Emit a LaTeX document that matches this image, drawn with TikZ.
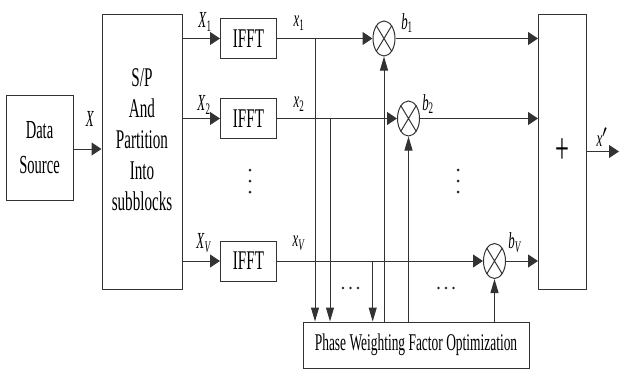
\documentclass[tikz,border=0pt]{standalone}
\usepackage{fontspec}
\setmainfont[FakeStretch=0.56]{Liberation Serif}
\usetikzlibrary{arrows.meta,shapes.geometric}
\begin{document}
\begin{tikzpicture}[x=1pt,y=-1pt,line width=1pt,draw=black!80,
  blk/.style={draw,rectangle,inner sep=0pt,font=\fontsize{27}{31}\selectfont},
  txt/.style={inner sep=0pt,font=\fontsize{27}{31}\selectfont},
  lab/.style={inner sep=0pt,font=\fontsize{23}{26}\selectfont},
  mult/.style={draw,ellipse,minimum width=22pt,minimum height=35pt,inner sep=0pt},
  hx/.style={-{Triangle[length=10pt,width=13pt]}},
  vx/.style={-{Triangle[length=14pt,width=8pt]}},
  dot/.style={fill=black!85}]
\useasboundingbox (0,0) rectangle (619,370);
% blocks
\node[blk,minimum width=67pt,minimum height=105pt,align=center,font=\fontsize{26}{35}\selectfont] (ds) at (39.5,147.5) {Data\\Source};
\node[blk,minimum width=80pt,minimum height=275pt] (sp) at (142,151.5) {};
\node[txt,align=center,font=\fontsize{27}{31}\selectfont] (spt) at (142,140) {S/P\\And\\Partition\\Into\\subblocks};
\node[blk,minimum width=56pt,minimum height=40pt] (f1) at (248.5,38.5) {IFFT};
\node[blk,minimum width=56pt,minimum height=40pt] (f2) at (248.5,118.5) {IFFT};
\node[blk,minimum width=56pt,minimum height=40pt] (fv) at (248.5,261) {IFFT};
\node[mult] (m1) at (384,38.5) {};
\node[mult] (m2) at (408.5,118.5) {};
\node[mult] (mv) at (494.5,261) {};
\foreach \m in {m1,m2,mv}{\draw (\m.59) -- (\m.239) (\m.121) -- (\m.301);}
\node[blk,minimum width=48pt,minimum height=275pt] (sum) at (562.5,151.5) {};
\node[txt,font=\fontsize{44}{44}\selectfont] (plus) at (sum.center) {+};
\node[blk,minimum width=226pt,minimum height=46pt,font=\fontsize{24}{28}\selectfont] (pw) at (416,345) {Phase Weighting Factor Optimization};
\coordinate (out) at (619,151.5);
% connectors
\draw[hx] (ds.east |- 0,149) -- (sp.west |- 0,149);
\draw[hx] (sp.east |- f1) -- (f1.west);
\draw[hx] (sp.east |- f2) -- (f2.west);
\draw[hx] (sp.east |- fv) -- (fv.west);
\draw[hx] (f1.east) -- (m1.west);
\draw[hx] (f2.east) -- (m2.west);
\draw[hx] (fv.east) -- (mv.west);
\draw[hx] (m1.east) -- (sum.west |- m1);
\draw[hx] (m2.east) -- (sum.west |- m2);
\draw[hx] (mv.east) -- (sum.west |- mv);
\draw[hx] (sum.east) -- (out);
\coordinate (br1) at (315,38.5);
\coordinate (br2) at (330,118.5);
\coordinate (br3) at (372.7,261);
\draw[vx] (br1) -- (br1 |- pw.north);
\draw[vx] (br2) -- (br2 |- pw.north);
\draw[vx] (br3) -- (br3 |- pw.north);
\draw[vx] (pw.north -| m1.south) -- (m1.south);
\draw[vx] (pw.north -| m2.south) -- (m2.south);
\draw[vx] (pw.north -| mv.south) -- (mv.south);
% labels
\node[lab] (lX) at (90,119) {\textit{X}};
\node[lab] (lX1) at (205,22) {\textit{X}\textsubscript{1}};
\node[lab] (lX2) at (204,105) {\textit{X}\textsubscript{2}};
\node[lab] (lXv) at (204,243) {\textit{X}\textsubscript{\textit{V}}};
\node[lab] (lx1) at (299,23) {\textit{x}\textsubscript{1}};
\node[lab] (lx2) at (299,104) {\textit{x}\textsubscript{2}};
\node[lab] (lxv) at (299,243) {\textit{x}\textsubscript{\textit{V}}};
\node[lab] (lb1) at (407,23) {\textit{b}\textsubscript{1}};
\node[lab] (lb2) at (428,104) {\textit{b}\textsubscript{2}};
\node[lab] (lbv) at (515,243) {\textit{b}\textsubscript{\textit{V}}};
\node[lab] (lxo) at (602,137) {\textit{x}$'$};
% dots
\foreach \y in {170,181,192}{\fill[dot] (250,\y) circle (1.5pt); \fill[dot] (458,\y) circle (1.5pt);}
\foreach \x in {343,350.5,358,438.5,446,453.5}{\fill[dot] (\x,288) circle (1.4pt);}
\end{tikzpicture}
\end{document}
